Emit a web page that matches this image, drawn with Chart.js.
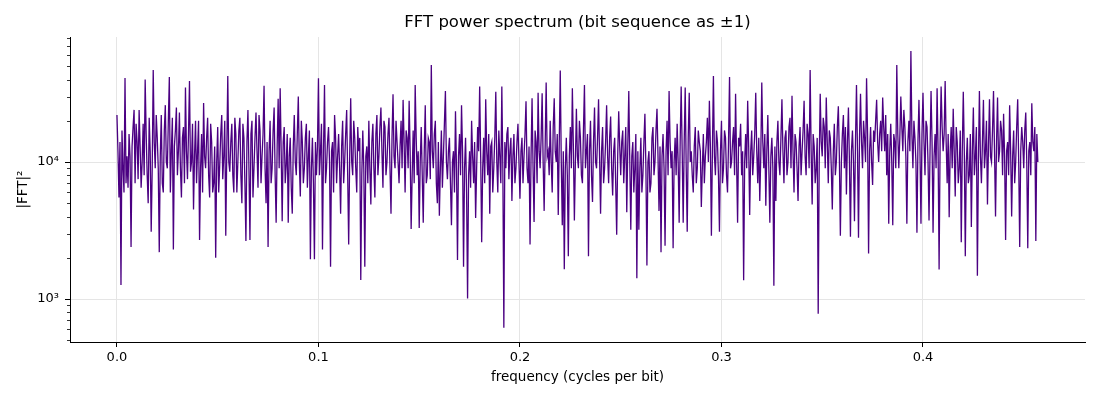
<!DOCTYPE html>
<html><head><meta charset="utf-8">
<script src="https://cdn.jsdelivr.net/npm/chart.js@4/dist/chart.umd.min.js"></script>
<style>html,body{margin:0;padding:0;background:#fff;} canvas{display:block;}</style>
</head><body>
<canvas id="c" width="1100" height="400"></canvas>
<script>
const titleText = 'FFT power spectrum (bit sequence as \u00b11)';
const xLabel = 'frequency (cycles per bit)';
const yLabel = '|FFT|\u00b2';
const freqStep = 0.0005;
const power = [
  22000,12000, 5500,14000, 1265,17000, 9000,6000, 41000,7000, 11000,6500, 16000,11000, 2400,13000, 18000,24000, 7000,19000,
  14000,7500, 24000,13000, 6500,10000, 19000,8000, 40000,16000, 8000,5000, 21000,12000, 3100,9000, 47000,14000, 9000,22000,
  15000,9000, 2200,11000, 22000,7000, 6000,17000, 26000,10000, 9000,20000, 41700,6000, 12000,21000, 2300,13000, 17000,25000,
  8000,12000, 23000,9000, 5500,15000, 18000,7000, 35000,12000, 7500,16000, 39000,8500, 10000,19000, 4500,11000, 20000,7000,
  12000,20000, 2700,9000, 16000,6000, 27000,11000, 9000,15000, 21000,8000, 5500,19000, 14000,6000, 7000,13000, 2000,10000,
  18000,6000, 9500,16000, 22000,7500, 11000,20000, 2900,12000, 42500,10000, 8500,14000, 19000,8000, 6000,21000, 16000,6000,
  10000,17000, 21000,8000, 5000,19000, 15000,7000, 2650,14000, 24000,9000, 2700,16000, 20000,5500, 9000,15000, 23000,12000,
  6500,22000, 17000,7000, 11000,16000, 36000,9000, 5000,14000, 2400,12000, 20000,7000, 9000,17000, 25000,8000, 3600,13000,
  29000,9000, 34500,12000, 3700,14000, 18000,7000, 9500,16000, 3600,11000, 15000,6500, 4200,13000, 22000,10000, 8000,16000,
  30000,10000, 5600,20000, 14000,7000, 9000,15000, 19000,6500, 11000,17000, 1950,9000, 15000,7000, 1950,14000, 8000,13000,
  40800,8000, 12000,19000, 2300,12000, 36500,7000, 9000,14000, 18000,10000, 1720,12000, 14000,6000, 22000,15000, 7000,11000,
  16000,9000, 4200,13000, 20000,7000, 10000,16000, 24000,8000, 2500,11000, 29200,10000, 8000,20000, 15000,9000, 6000,18000,
  12000,15000, 1380,8000, 17000,9000, 1720,11000, 13000,7000, 20000,9000, 4900,14000, 19000,9000, 5500,16000, 22000,8000,
  11000,18000, 25000,12000, 6500,20000, 18000,8000, 10000,16000, 21000,9000, 4200,15000, 31200,11000, 9000,20000, 14000,10000,
  7000,13000, 20000,9000, 28400,14000, 6000,17000, 15000,9000, 28000,12000, 3250,8000, 17000,7000, 36500,15000, 8000,12000,
  3300,10000, 18000,8000, 3600,12000, 26000,7000, 8000,15000, 14000,7500, 51000,12000, 9000,16000, 20000,7000, 5000,14000,
  4050,9000, 17000,6500, 11000,19000, 33000,10000, 7500,12000, 15000,7000, 3450,10000, 12000,6000, 23500,9000, 1930,11000,
  16000,8000, 26000,12000, 1720,9000, 15000,6000, 1010,8000, 12000,6500, 20000,11000, 7000,14000, 3900,9000, 18000,12000,
  35500,11000, 2600,9000, 15000,7000, 28700,12000, 8000,16000, 4200,13000, 14000,6000, 9000,15000, 32500,10000, 6000,17000,
  11000,7000, 35500,9000, 617,14000, 9000,16000, 18000,7500, 12000,15000, 5200,11000, 16000,7000, 9000,14000, 19000,10000,
  5400,12000, 15000,7000, 11000,16000, 27800,9000, 7000,13000, 2500,11000, 29200,9000, 3650,17000, 14000,7000, 32000,12000,
  9000,15000, 31800,10000, 4400,13000, 38000,11000, 12000,8000, 20000,10000, 6000,18000, 29200,12000, 10000,16000, 4100,14000,
  46500,10000, 3450,12000, 1650,9000, 15000,8000, 2050,11000, 18000,9000, 34500,13000, 3750,10000, 24500,11000, 9000,20000,
  15000,8000, 7000,17000, 36500,9000, 12000,16000, 2050,12000, 20000,8000, 5100,14000, 25000,10000, 9000,15000, 28700,11000,
  4200,12000, 18000,7000, 9000,14000, 26000,11000, 7000,15000, 21500,9000, 5700,12000, 15000,7000, 2950,11000, 23500,13000,
  8000,14000, 17000,7000, 11000,18000, 4300,13000, 33000,10000, 3200,11000, 14000,6000, 9000,16000, 1420,12000, 3200,9000,
  15000,6000, 8000,14000, 22500,9000, 1760,10000, 12000,6000, 7000,15000, 18000,8000, 10000,17000, 24500,11000, 4400,13000,
  2200,11000, 16000,9000, 2450,12000, 20000,8000, 33000,14000, 9000,12000, 2350,10000, 15000,8000, 19000,10000, 3600,14000,
  35500,12000, 3600,14000, 35000,9000, 3100,15000, 32000,10000, 12000,8000, 6000,13000, 18000,7000, 9000,17000, 14000,12000,
  4700,9000, 16000,7000, 11000,14000, 21000,10000, 28000,13000, 2900,12000, 42500,11000, 8000,17000, 14000,8000, 3100,12000,
  20000,7000, 9000,17000, 15000,8000, 6000,14000, 41700,9000, 10000,14000, 18000,8000, 31500,10000, 3600,15000, 13000,19000,
  8000,12000, 1370,10000, 16000,9000, 28000,13000, 4100,12000, 17000,8000, 11000,16000, 32000,12000, 7000,15000, 5200,11000,
  38000,14000, 9000,16000, 4800,12000, 22000,9000, 3600,11000, 15000,9000, 1250,13000, 5200,14000, 20000,10000, 8000,15000,
  28700,12000, 7000,15000, 17000,8000, 10000,18000, 21000,9000, 30500,12000, 6000,16000, 14000,9000, 5200,13000, 18000,8000,
  12000,17000, 28000,11000, 8000,19000, 16000,9000, 47000,12000, 4900,16000, 13000,7000, 9000,15000, 780,10000, 31500,14000,
  11000,21000, 18000,9000, 29500,14000, 7000,17000, 15000,9000, 4500,12000, 19000,8000, 10000,18000, 25500,11000, 2900,10000,
  16000,22000, 9000,18000, 5800,14000, 25000,10000, 2850,12000, 17000,10000, 3700,14000, 36500,12000, 2800,15000, 31500,14000,
  9000,20000, 15000,10000, 40800,16000, 2150,12000, 18000,10000, 6800,17000, 14000,20000, 28400,14000, 10000,16000, 20000,12000,
  29500,18000, 12000,22000, 8000,16000, 3550,12000, 19000,10000, 3450,16000, 14000,9000, 51000,16000, 9000,15000, 30000,18000,
  12000,24000, 18000,11000, 3550,14000, 20000,12000, 64600,16000, 9000,20000, 15000,10000, 3050,14000, 28400,12000, 3550,16000,
  32000,14000, 8000,20000, 18000,10000, 3750,12000, 33000,14000, 3050,11000, 16000,9000, 34500,12000, 1640,14000, 35500,18000,
  12000,16000, 39000,14000, 7000,16000, 3950,12000, 18000,9000, 24500,12000, 5600,18000, 14000,7000, 9000,17000, 2600,12000,
  32500,12000, 2050,10000, 15000,7000, 8000,16000, 3350,12000, 25000,8000, 11000,18000, 1480,10000, 33000,11000, 7000,14000,
  28400,9000, 12000,20000, 4900,13000, 28700,11000, 10000,17000, 33000,12000, 4000,14000, 29500,10000, 12000,20000, 17000,8000,
  22500,11000, 2700,12000, 14000,8000, 26000,12000, 4000,11000, 17000,7000, 10000,18000, 28700,10000, 2400,12000, 18000,14000,
  9000,17000, 23000,10000, 2350,12000, 14000,8000, 26800,14000, 12000,18000, 2650,16000, 10000
];
const xTicks = [0.0, 0.1, 0.2, 0.3, 0.4];
const xTickLabels = ['0.0', '0.1', '0.2', '0.3', '0.4'];
const yMajorTicks = [1000, 10000];
const yMajorLabels = ['10\u00b3', '10\u2074'];
const yMinorTicks = [500, 600, 700, 800, 900,
  2000, 3000, 4000, 5000, 6000, 7000, 8000, 9000,
  20000, 30000, 40000, 50000, 60000, 70000, 80000];
const xRange = [-0.0233, 0.4804];
const yRange = [486, 81700];

const lineColor = '#4b0082';
const FONT = '"DejaVu Sans", sans-serif';

const points = power.map((v, i) => ({ x: i * freqStep, y: v }));
const allYTicks = yMajorTicks.concat(yMinorTicks).sort((a, b) => a - b);
const isMajorY = v => yMajorTicks.indexOf(v) >= 0;

const titlePlugin = {
  id: 'mplTitle',
  afterDraw(chart) {
    const { ctx, chartArea } = chart;
    ctx.save();
    ctx.font = '16.5px ' + FONT;
    ctx.fillStyle = '#000';
    ctx.textAlign = 'center';
    ctx.textBaseline = 'middle';
    ctx.fillText(titleText, (chartArea.left + chartArea.right) / 2, chartArea.top - 14);
    ctx.restore();
  }
};

const minorTickPlugin = {
  id: 'minorTicks',
  afterDraw(chart) {
    const y = chart.scales.y;
    const ctx = chart.ctx;
    const left = chart.chartArea.left;
    ctx.save();
    ctx.strokeStyle = '#000';
    ctx.lineWidth = 0.8;
    yMinorTicks.forEach(v => {
      if (v < yRange[0] || v > yRange[1]) return;
      const p = Math.round(y.getPixelForValue(v)) + 0.5;
      ctx.beginPath();
      ctx.moveTo(left - 3, p);
      ctx.lineTo(left, p);
      ctx.stroke();
    });
    ctx.restore();
  }
};

new Chart(document.getElementById('c'), {
  type: 'line',
  data: {
    datasets: [{
      data: points,
      borderColor: lineColor,
      backgroundColor: lineColor,
      borderWidth: 1.3,
      pointRadius: 0,
      tension: 0,
      fill: false
    }]
  },
  options: {
    responsive: false,
    animation: false,
    devicePixelRatio: 1,
    layout: { padding: { top: 37, right: 15, bottom: 0, left: 0 } },
    plugins: { legend: { display: false }, tooltip: { enabled: false }, title: { display: false } },
    scales: {
      x: {
        type: 'linear',
        min: xRange[0],
        max: xRange[1],
        afterBuildTicks: s => { s.ticks = xTicks.map(v => ({ value: v })); },
        afterFit: s => { s.height = 58; },
        ticks: {
          autoSkip: false, maxRotation: 0, padding: 3,
          color: '#000', font: { family: FONT, size: 13 },
          callback: (v) => { const i = xTicks.indexOf(v); return i >= 0 ? xTickLabels[i] : ''; }
        },
        grid: { color: '#e5e5e5', lineWidth: 1, drawTicks: true, tickLength: 5, tickColor: '#000' },
        border: { display: true, color: '#000', width: 1 },
        title: { display: true, text: xLabel, color: '#000', font: { family: FONT, size: 13.5 }, padding: { top: 0, bottom: 14 } }
      },
      y: {
        type: 'logarithmic',
        min: yRange[0],
        max: yRange[1],
        afterBuildTicks: s => { s.ticks = allYTicks.map(v => ({ value: v, major: isMajorY(v) })); },
        afterFit: s => { s.width = 70; },
        ticks: {
          autoSkip: false, padding: 6,
          color: '#000', font: { family: FONT, size: 13 },
          callback: (v) => { const i = yMajorTicks.indexOf(v); return i >= 0 ? yMajorLabels[i] : ''; }
        },
        grid: {
          color: c => (c.tick && isMajorY(c.tick.value)) ? '#e5e5e5' : 'rgba(0,0,0,0)',
          tickColor: c => (c.tick && isMajorY(c.tick.value)) ? '#000' : 'rgba(0,0,0,0)',
          lineWidth: 1, drawTicks: true, tickLength: 5
        },
        border: { display: true, color: '#000', width: 1 },
        title: { display: true, text: yLabel, color: '#000', font: { family: FONT, size: 13.5 }, padding: { top: 15, bottom: 0 } }
      }
    }
  },
  plugins: [titlePlugin, minorTickPlugin]
});
</script>
</body></html>
